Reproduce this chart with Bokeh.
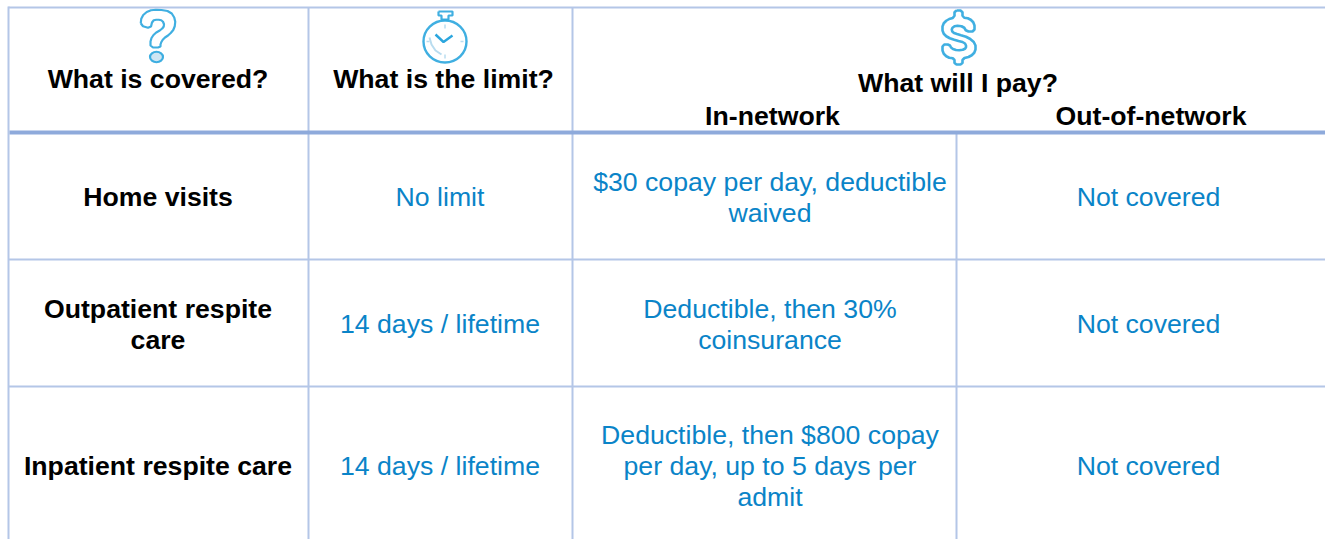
from bokeh.plotting import figure
from bokeh.models import ColumnDataSource
from bokeh.core.properties import value
from bokeh.embed import file_html
from bokeh.resources import INLINE

# table content
header_labels = ["What is covered?", "What is the limit?", "What will I pay?"]
sub_header_labels = ["In-network", "Out-of-network"]
covered = [["Home visits"], ["Outpatient respite", "care"], ["Inpatient respite care"]]
limit = [["No limit"], ["14 days / lifetime"], ["14 days / lifetime"]]
in_network = [["$30 copay per day, deductible", "waived"],
              ["Deductible, then 30%", "coinsurance"],
              ["Deductible, then $800 copay", "per day, up to 5 days per", "admit"]]
out_network = [["Not covered"], ["Not covered"], ["Not covered"]]

# table geometry (page pixels)
W, H = 1325, 539
col_lines = [8, 308, 572, 956]
row_lines = [7, 132, 259, 386]
col_centers = [157.5, 439.5, 769.5, 1148]
row_centers = [196.5, 323.5, 465.5]
LINE_H = 31

LIGHT, DARK = "#b4c6e7", "#8eaadb"
BLUE, BLACK = "#0a84c8", "#000000"
ICON = "#2ba6de"
FONT = value("Liberation Sans")
FS = "26.67px"

p = figure(width=W, height=H, x_range=(0, W), y_range=(H, 0),
           toolbar_location=None, output_backend="svg",
           x_axis_type=None, y_axis_type=None, min_border=0,
           outline_line_color=None, background_fill_color="white")
p.grid.visible = False
p.styles = {"position": "absolute", "left": "0px", "top": "0px"}

# grid lines
p.segment(x0=[col_lines[0], col_lines[1], col_lines[2], col_lines[3]],
          y0=[row_lines[0] - 1, row_lines[0], row_lines[0], row_lines[1]],
          x1=[col_lines[0], col_lines[1], col_lines[2], col_lines[3]],
          y1=[H, H, H, H], line_color=LIGHT, line_width=2)
p.segment(x0=[col_lines[0]] * 3, y0=[row_lines[0], row_lines[2], row_lines[3]],
          x1=[W] * 3, y1=[row_lines[0], row_lines[2], row_lines[3]],
          line_color=LIGHT, line_width=2)
p.segment(x0=[col_lines[0] + 1], y0=[row_lines[1]], x1=[W], y1=[row_lines[1]],
          line_color=DARK, line_width=4)


def chaikin(pts, n=2):
    for _ in range(n):
        out = []
        for i in range(len(pts)):
            a, b = pts[i], pts[(i + 1) % len(pts)]
            out.append((0.75 * a[0] + 0.25 * b[0], 0.75 * a[1] + 0.25 * b[1]))
            out.append((0.25 * a[0] + 0.75 * b[0], 0.25 * a[1] + 0.75 * b[1]))
        pts = out
    return pts


def outline(pts, smooth=2, width=2.2, color=ICON, alpha=0.9):
    s = chaikin(pts, smooth) if smooth else pts
    s = s + [s[0]]
    p.line([a for a, _ in s], [b for _, b in s], line_color=color,
           line_width=width, line_alpha=alpha)


# question mark icon
outline([(140, 25), (141, 16), (148, 10), (158, 9), (170, 11), (175, 19), (174, 28), (169, 34),
         (163, 38), (160, 43), (160, 47), (150, 47), (150, 39), (154, 33), (161, 29), (164, 25),
         (162, 20), (157, 19), (152, 20), (150, 28)], smooth=1)
p.ellipse(x=[156], y=[56.5], width=[13], height=[10.5], fill_color="#cfe6f3",
          line_color=ICON, line_width=2.2, line_alpha=0.9)

# stopwatch icon
p.ellipse(x=[444.5], y=[41], width=[43], height=[42], fill_color=None,
          line_color=ICON, line_width=2.4, line_alpha=0.9)
outline([(438, 11), (452, 11), (452, 15), (448, 15), (448, 19), (441, 19), (441, 15), (438, 15)], smooth=0)
p.line([435, 443, 452], [34, 41.5, 35], line_color=ICON, line_width=2.4)
p.multi_line([[444.5, 444.5], [444.5, 444.5], [426, 429], [460, 463]],
             [[24, 28], [54, 58], [41, 41], [41, 41]], line_color="#b9dcef", line_width=1.5)
p.line([429, 431, 435, 441], [37, 44, 50, 54], line_color="#b9dcef", line_width=2)

# dollar icon
outline([(954, 10), (962, 10), (962, 17), (969, 18), (974, 23), (974, 31), (966, 31), (963, 26),
         (955, 25), (951, 28), (952, 32), (958, 34), (968, 37), (975, 43), (975, 51), (970, 56),
         (962, 58), (962, 64), (954, 64), (954, 58), (947, 57), (942, 52), (942, 44), (949, 44),
         (951, 48), (957, 50), (964, 49), (966, 46), (964, 42), (956, 40), (947, 37), (942, 32),
         (942, 24), (947, 19), (954, 17)], smooth=1, width=2.6)

# texts
xs, ys, labels, colors, styles = [], [], [], [], []


def put(x, y, text, color, style):
    xs.append(x); ys.append(y); labels.append(text); colors.append(color); styles.append(style)


put(157.5, 78, header_labels[0], BLACK, "bold")
put(443, 78, header_labels[1], BLACK, "bold")
put(957.5, 82, header_labels[2], BLACK, "bold")
put(772, 115, sub_header_labels[0], BLACK, "bold")
put(1150.5, 115, sub_header_labels[1], BLACK, "bold")

for idx, (col, color, style) in enumerate([(covered, BLACK, "bold"), (limit, BLUE, "normal"),
                                           (in_network, BLUE, "normal"), (out_network, BLUE, "normal")]):
    for row, lines in enumerate(col):
        top = row_centers[row] - (len(lines) - 1) * LINE_H / 2
        for i, line in enumerate(lines):
            put(col_centers[idx], top + i * LINE_H, line, color, style)

src = ColumnDataSource(dict(x=xs, y=ys, text=labels, color=colors, style=styles))
p.text(x="x", y="y", text="text", source=src, text_color="color", text_font=FONT,
       text_font_size=value(FS), text_font_style="style", text_align="center",
       text_baseline="middle")

open("out.html", "w").write(file_html(p, INLINE))
